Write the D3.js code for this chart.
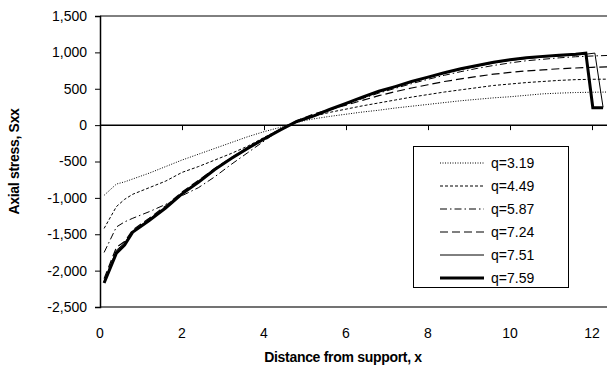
<!DOCTYPE html>
<html>
<head>
<meta charset="utf-8">
<script src="https://cdn.jsdelivr.net/npm/d3@7"></script>
<style>
  body { margin: 0; background: #fff; }
  svg text { font-family: "Liberation Sans", Arial, sans-serif; fill: #000; }
</style>
</head>
<body>
<figure id="axial-stress" style="margin:0"></figure>
<script>
// series labels
const seriesNames = ["q=3.19", "q=4.49", "q=5.87", "q=7.24", "q=7.51", "q=7.59"];

// distance along the beam
const xCommon = [0.1, 0.4, 0.6, 0.8, 1.2, 1.6, 2.0, 2.4, 2.8, 3.2, 3.6, 4.0, 4.4, 4.8, 5.2, 5.6, 6.0,
  6.4, 6.8, 7.2, 7.6, 8.0, 8.4, 8.8, 9.2, 9.6, 10.0, 10.4, 10.8, 11.2, 11.6, 12.0, 12.4];
const x751 = [0.1, 0.4, 0.6, 0.8, 1.2, 1.6, 2.0, 2.4, 2.8, 3.2, 3.6, 4.0, 4.4, 4.8, 5.2, 5.6, 6.0,
  6.4, 6.8, 7.2, 7.6, 8.0, 8.4, 8.8, 9.2, 9.6, 10.0, 10.4, 10.8, 11.2, 11.6, 11.85, 12.07, 12.27];
const x759 = [0.1, 0.4, 0.6, 0.8, 1.2, 1.6, 2.0, 2.4, 2.8, 3.2, 3.6, 4.0, 4.4, 4.8, 5.2, 5.6, 6.0,
  6.4, 6.8, 7.2, 7.6, 8.0, 8.4, 8.8, 9.2, 9.6, 10.0, 10.4, 10.8, 11.2, 11.6, 11.85, 12.02, 12.27];

// axial stress Sxx
const s319 = [-965, -810, -780, -740, -660, -570, -480, -400, -320, -240, -160, -90, -30, 40, 85, 120, 150,
  180, 205, 235, 260, 285, 310, 335, 355, 375, 390, 410, 430, 440, 448, 452, 455];
const s449 = [-1420, -1120, -1020, -950, -860, -770, -650, -570, -480, -390, -290, -170, -55, 50, 120, 175, 220,
  265, 305, 345, 385, 420, 455, 485, 515, 545, 565, 585, 600, 615, 625, 630, 632];
const s587 = [-1750, -1400, -1330, -1280, -1190, -1090, -970, -860, -710, -540, -380, -220, -60, 50, 120, 205, 285,
  365, 440, 505, 570, 630, 685, 735, 780, 820, 855, 885, 905, 925, 940, 950, 958];
const s724 = [-2110, -1680, -1600, -1440, -1280, -1110, -920, -760, -595, -450, -310, -180, -60, 60, 150, 215, 275,
  340, 405, 460, 510, 555, 600, 635, 670, 700, 725, 745, 760, 775, 785, 795, 800];
const s751 = [-2150, -1720, -1620, -1460, -1295, -1125, -935, -775, -605, -455, -315, -185, -60, 50, 125, 210, 295,
  380, 460, 525, 595, 655, 715, 765, 810, 855, 890, 915, 935, 950, 965, 975, 990, 245];
const s759 = [-2170, -1760, -1650, -1470, -1310, -1140, -945, -785, -610, -460, -320, -190, -65, 50, 125, 215, 300,
  385, 465, 530, 600, 660, 720, 775, 820, 865, 900, 925, 945, 960, 975, 990, 240, 240];

// tick values
const xTicks = [0, 2, 4, 6, 8, 10, 12];
const yTicks = [-2500, -2000, -1500, -1000, -500, 0, 500, 1000, 1500];

const seriesX = [xCommon, xCommon, xCommon, xCommon, x751, x759];
const seriesY = [s319, s449, s587, s724, s751, s759];
const dashes = ["1,1.5", "3,2", "7,3,1.5,3", "8,4", null, null];
const widths = [1, 1, 1, 1.2, 1, 3];

const width = 607, height = 368;
const plotLeft = 100, plotTop = 16, plotBottom = 307;

const svg = d3.select("figure#axial-stress")
  .append("svg")
  .attr("width", width)
  .attr("height", height);

const x = d3.scaleLinear().domain([0, 12.5]).range([plotLeft, plotLeft + 41 * 12.5]);
const y = d3.scaleLinear().domain([-2500, 1500]).range([plotBottom, plotTop]);

const fmt = d => d3.format(",")(d).replace("\u2212", "-");

// plot area top and bottom borders
svg.append("line")
  .attr("x1", plotLeft).attr("x2", width)
  .attr("y1", plotTop).attr("y2", plotTop)
  .style("stroke", "#000");
svg.append("line")
  .attr("x1", plotLeft).attr("x2", width)
  .attr("y1", plotBottom).attr("y2", plotBottom)
  .style("stroke", "#444").style("stroke-width", 1.5);

// Y axis
const yaxis = svg.append("g")
  .attr("transform", "translate(" + plotLeft + ",0)")
  .call(d3.axisLeft(y).tickValues(yTicks).tickFormat(fmt).tickSize(5).tickPadding(8));
yaxis.select(".domain").style("stroke", "#000").style("stroke-width", 1.5);
yaxis.selectAll("line").style("stroke", "#000");
yaxis.selectAll("text").style("font-size", "14px");

// X axis sits on zero, labels at the bottom
const xaxis = svg.append("g")
  .attr("transform", "translate(0," + y(0) + ")")
  .call(d3.axisBottom(x).tickValues(xTicks).tickSize(5).tickFormat(""));
xaxis.select(".domain").attr("d", "M" + plotLeft + ",0H" + width).style("stroke", "#000").style("stroke-width", 1.5);
xaxis.selectAll("line").style("stroke", "#000");

svg.selectAll(".xlab")
  .data(xTicks)
  .enter()
  .append("text")
  .attr("x", d => x(d))
  .attr("y", 338)
  .attr("text-anchor", "middle")
  .style("font-size", "14px")
  .text(d => d);

// axis titles
svg.append("text")
  .attr("x", 343)
  .attr("y", 362)
  .attr("text-anchor", "middle")
  .style("font-size", "14px")
  .style("font-weight", "bold")
  .style("letter-spacing", "-0.3px")
  .text("Distance from support, x");

svg.append("text")
  .attr("transform", "translate(19," + ((plotTop + plotBottom) / 2) + ") rotate(-90)")
  .attr("text-anchor", "middle")
  .style("font-size", "14px")
  .style("font-weight", "bold")
  .style("letter-spacing", "-0.3px")
  .text("Axial stress, Sxx");

// the curves
const line = d3.line()
  .x(d => x(d[0]))
  .y(d => y(d[1]));

seriesNames.forEach((name, i) => {
  const pts = seriesX[i].map((v, j) => [v, seriesY[i][j]]);
  svg.append("path")
    .datum(pts)
    .attr("d", line)
    .attr("fill", "none")
    .attr("stroke", "#000")
    .attr("stroke-width", widths[i])
    .attr("stroke-dasharray", dashes[i])
    .attr("stroke-linejoin", "miter");
});

// legend
const legend = svg.append("g");
legend.append("rect")
  .attr("x", 413.5).attr("y", 146.5)
  .attr("width", 155).attr("height", 141)
  .attr("fill", "#fff")
  .attr("stroke", "#000");

seriesNames.forEach((name, i) => {
  const ly = 163 + i * 23;
  legend.append("line")
    .attr("x1", 440).attr("x2", 484)
    .attr("y1", ly).attr("y2", ly)
    .attr("stroke", "#000")
    .attr("stroke-width", widths[i])
    .attr("stroke-dasharray", dashes[i]);
  legend.append("text")
    .attr("x", 491)
    .attr("y", ly)
    .attr("dy", "0.35em")
    .style("font-size", "14px")
    .text(name);
});
</script>
</body>
</html>
